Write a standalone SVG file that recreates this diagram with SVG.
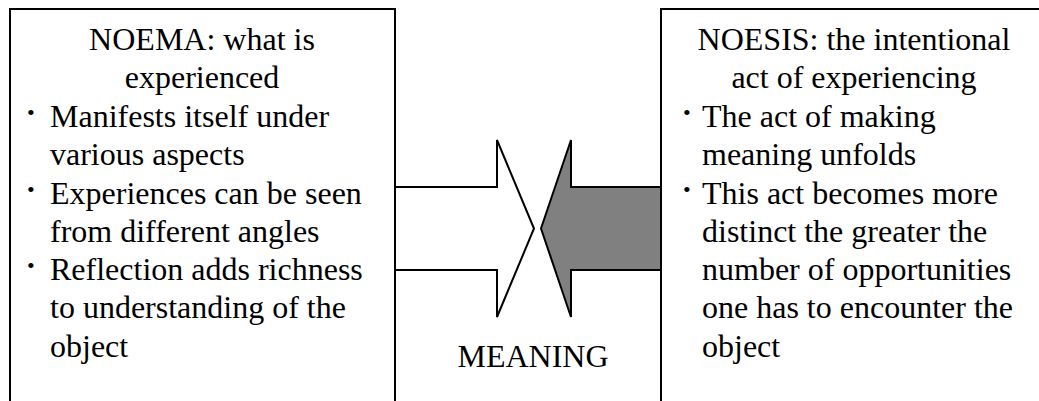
<svg xmlns="http://www.w3.org/2000/svg" width="1039" height="401" viewBox="0 0 1039 401">
  <style>
    .box { fill: #ffffff; stroke: #000000; stroke-width: 2; }
    .arrow { stroke: #000000; stroke-width: 2; stroke-linejoin: miter; }
    .t { font-family: "Liberation Serif", "Times New Roman", serif; font-size: 32px; fill: #000000; }
    .c { text-anchor: middle; }
    .b { font-family: "Liberation Serif", "Times New Roman", serif; font-size: 22px; fill: #000000; }
  </style>
  <rect width="1039" height="401" fill="#ffffff"/>
  <g id="connectors">
    <path class="arrow" fill="#ffffff" d="M395,187 L497,187 L497,140 L534,228.5 L497,317 L497,270 L395,270 Z"/>
    <path class="arrow" fill="#808080" d="M661,187 L571,187 L571,140 L541,228.5 L571,317 L571,270 L661,270 Z"/>
  </g>
  <g id="noema">
    <rect class="box" x="10" y="9" width="385" height="420"/>
    <text class="t c" x="202" y="50">NOEMA: what is</text>
    <text class="t c" x="202" y="88">experienced</text>
    <text class="b" x="27" y="120">•</text>
    <text class="b" x="27" y="197">•</text>
    <text class="b" x="27" y="273">•</text>
    <text class="t" x="50" y="127">Manifests itself under</text>
    <text class="t" x="50" y="165">various aspects</text>
    <text class="t" x="50" y="204">Experiences can be seen</text>
    <text class="t" x="50" y="242">from different angles</text>
    <text class="t" x="50" y="280">Reflection adds richness</text>
    <text class="t" x="50" y="318">to understanding of the</text>
    <text class="t" x="50" y="357">object</text>
  </g>
  <g id="noesis">
    <rect class="box" x="661" y="9" width="400" height="420"/>
    <text class="t c" x="854" y="50">NOESIS: the intentional</text>
    <text class="t c" x="854" y="88">act of experiencing</text>
    <text class="b" x="683" y="120">•</text>
    <text class="b" x="683" y="197">•</text>
    <text class="t" x="702" y="127">The act of making</text>
    <text class="t" x="702" y="165">meaning unfolds</text>
    <text class="t" x="702" y="204">This act becomes more</text>
    <text class="t" x="702" y="242">distinct the greater the</text>
    <text class="t" x="702" y="280">number of opportunities</text>
    <text class="t" x="702" y="318">one has to encounter the</text>
    <text class="t" x="702" y="357">object</text>
  </g>
  <g id="meaning">
    <text class="t c" x="533" y="367">MEANING</text>
  </g>
</svg>
